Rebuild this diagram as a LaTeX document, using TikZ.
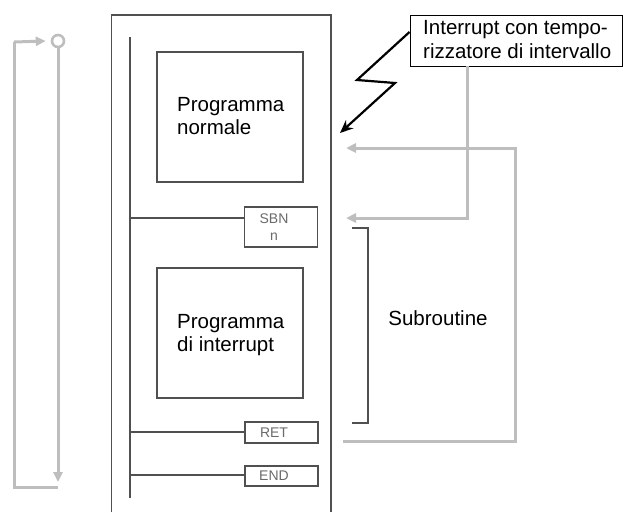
\documentclass[tikz,border=0pt]{standalone}
\usepackage{fontspec}
\setmainfont{Liberation Sans}
\usetikzlibrary{arrows.meta}
\definecolor{lg}{HTML}{BEBEBE}
\definecolor{dg}{HTML}{505050}
\definecolor{tg}{HTML}{6A6A6A}
\tikzset{
  boxline/.style={draw=dg, line width=1.6pt},
  bigbox/.style={boxline, rectangle, inner sep=0pt, minimum width=146pt, minimum height=130pt},
  insbox/.style={boxline, rectangle, inner sep=0pt, minimum width=73pt},
  bigtxt/.style={font=\fontsize{20.5}{23.5}\selectfont, align=left, anchor=west, inner sep=0pt},
  smalltxt/.style={font=\fontsize{14}{17}\selectfont, text=tg, inner sep=0pt},
  garrow/.style={draw=lg, line width=3pt, -{Triangle[length=10pt,width=9pt]}},
  gline/.style={draw=lg, line width=3pt},
}
\begin{document}
\begin{tikzpicture}[x=1pt,y=-1pt]
\useasboundingbox (0,0) rectangle (623,512);
% outer frame (open at bottom)
\draw[draw=dg, line width=1.6pt] (111.5,512) -- (111.5,15) -- (331,15) -- (331,512);
% rail
\coordinate (railtop) at (130,37);
\coordinate (railbot) at (130,498);
\draw[boxline] (railtop) -- (railbot);
% boxes
\node[bigbox] (pn) at (230,117) {};
\node[bigtxt] (pntxt) at (177,116) {Programma\\normale};
\node[insbox, minimum height=40pt] (sbn) at (281,227) {};
\node[smalltxt, align=center] (sbntxt) at (274,227) {SBN\\n};
\node[bigbox] (pi) at (230,333) {};
\node[bigtxt] (pitxt) at (177,335) {Programma\\di interrupt};
\node[insbox, minimum height=21pt] (ret) at (281.5,432.5) {};
\node[smalltxt] (rettxt) at (274,433) {RET};
\node[insbox, minimum height=20pt] (endb) at (281.5,476) {};
\node[smalltxt] (endtxt) at (274,476) {END};
% rungs
\coordinate (r1) at (130,218);
\coordinate (r2) at (130,432);
\coordinate (r3) at (130,475);
\draw[boxline] (r1) -- (r1 -| sbn.west);
\draw[boxline] (r2) -- (r2 -| ret.west);
\draw[boxline] (r3) -- (r3 -| endb.west);
% interrupt label
\node[draw=black, line width=1pt, rectangle, inner sep=0pt, minimum width=212pt, minimum height=51pt] (lab) at (516,40.5) {};
\node[font=\fontsize{20.5}{24}\selectfont, align=left, anchor=west, inner sep=0pt] (labtxt) at (423,40) {Interrupt con tempo-\\rizzatore di intervallo};
% lightning arrow
\coordinate (l0) at (lab.west |- 0,32);
\coordinate (l1) at (357,80);
\coordinate (l2) at (395,83);
\coordinate (l3) at (340,133);
\draw[black, line width=2.2pt, line join=miter, -{Stealth[length=13pt,width=11pt]}] (l0) -- (l1) -- (l2) -- (l3);
% gray arrow from label to SBN
\coordinate (g0) at (467,66);
\coordinate (g1) at (467,218);
\coordinate (g2) at (346,218);
\draw[garrow] (g0) -- (g1) -- (g2);
% gray return arrow from RET
\coordinate (h0) at (343,441);
\coordinate (h1) at (515,441);
\coordinate (h2) at (515,148);
\coordinate (h3) at (346,148);
\draw[garrow] (h0) -- (h1) -- (h2) -- (h3);
% bracket
\coordinate (b0) at (352,228);
\coordinate (b1) at (368,228);
\coordinate (b2) at (368,423);
\coordinate (b3) at (352,423);
\draw[boxline] (b0) -- (b1) -- (b2) -- (b3);
\node[font=\fontsize{20.5}{24}\selectfont, inner sep=0pt] (sub) at (438,318) {Subroutine};
% left scan loop
\node[draw=lg, line width=2.6pt, circle, inner sep=0pt, minimum size=12pt] (circ) at (58,41) {};
\coordinate (c1) at (58,482);
\coordinate (c2) at (58,487);
\coordinate (c3) at (14,487);
\coordinate (c4) at (14,42);
\draw[garrow] (circ.south) -- (c1);
\draw[gline] (c2) -- (c3) -- (c4);
\draw[garrow] (c4) -- ([xshift=-5pt]circ.west);
\end{tikzpicture}
\end{document}
